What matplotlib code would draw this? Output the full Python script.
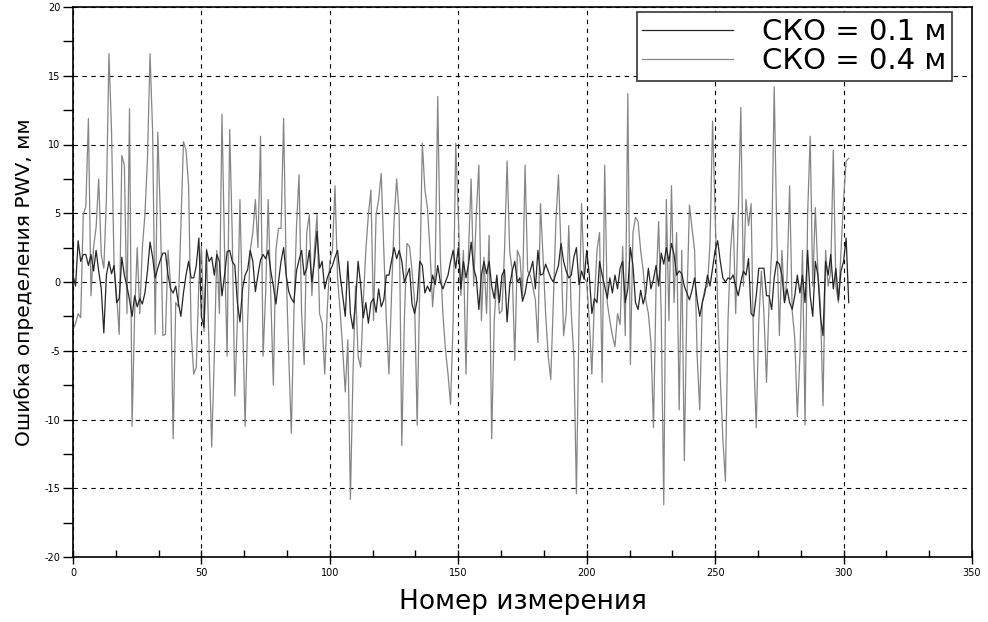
import matplotlib
matplotlib.use("Agg")
import matplotlib.pyplot as plt
from matplotlib.ticker import MultipleLocator

plt.rcParams["axes.unicode_minus"] = False

# measurement number
n_points = 303
meas = list(range(n_points))

# error of PWV, mm, for sigma = 0.1 m
err_01 = [
    0.5, -0.3, 3.0, 1.5, 2.0, 2.0, 1.2, 2.0, 0.8, 2.3,
    0.8, -0.5, -3.7, 0.5, 1.5, 0.6, 1.2, -1.5, -1.2, 1.8,
    0.5, -0.3, -1.3, -2.5, -1.0, -1.8, -1.2, -1.6, -0.8, 0.8,
    2.9, 1.8, 0.3, 1.0, 1.6, 2.1, 2.1, 0.5, -0.5, -0.8,
    -0.3, -1.5, -2.5, -0.8, 0.5, 1.5, 0.3, 0.3, 1.2, 3.2,
    -2.5, -3.3, 2.3, 1.5, 1.8, 0.5, 2.0, 1.5, -1.0, 0.5,
    2.2, 2.3, 1.5, 1.2, -1.5, -2.9, -0.5, 0.5, 0.9, 2.3,
    1.5, -0.7, 0.5, 1.6, 2.0, 1.7, 2.3, 0.8, -0.3, -1.6,
    0.0, 1.5, 2.5, 0.5, -0.7, -1.2, -1.5, 0.8, 1.6, 2.3,
    0.5, 1.0, 2.3, 0.0, 1.5, 3.7, 1.0, 1.5, -0.5, 0.3,
    0.8, 1.2, 1.8, 2.3, 0.5, -1.0, -2.5, 1.5, -2.3, -3.4,
    -1.5, 1.5, -0.2, -2.6, -1.5, -3.0, -1.5, -1.2, -2.2, -0.5,
    -1.8, -1.3, 0.5, 0.5, 1.5, 2.5, 1.7, 2.3, 1.5, 0.0,
    0.5, 1.0, -1.6, -2.3, -1.3, 1.5, 1.2, -0.8, -0.3, -0.7,
    0.5, -0.2, 1.2, 0.0, -0.5, 0.0, 0.5, 1.5, 2.3, 1.0,
    2.5, -0.5, 1.5, 0.3, 1.3, 2.9, 1.0, 0.3, -2.0, 0.5,
    1.5, 0.6, 1.5, -0.3, -1.2, 0.5, -1.5, 0.5, 0.9, -2.9,
    -0.3, 0.8, 1.5, 0.0, 0.3, -1.4, -0.8, 0.3, 0.8, 1.5,
    -0.5, 2.3, 0.5, 0.6, 1.3, 0.8, 0.3, 0.0, 0.6, 1.2,
    2.8, 1.5, 0.8, 0.3, 0.5, 1.8, 2.5, -0.2, 0.8, 0.2,
    2.3, 0.5, -2.3, -1.2, -1.5, 1.5, 0.5, -0.3, -1.2, 0.3,
    -0.8, 0.5, -0.5, 1.0, 1.5, -1.5, -0.5, 2.5, 1.2, -1.5,
    -2.0, -0.6, -1.6, -0.8, 1.0, -0.5, 0.2, 1.2, -0.3, 2.1,
    1.3, 2.5, 1.5, 2.8, 2.0, 0.5, 0.8, 0.6, -0.3, -0.8,
    -1.3, -0.6, 0.3, -1.3, -2.5, -1.5, -0.8, 0.5, -0.3, 1.0,
    2.3, 3.0, 1.5, 0.3, 0.0, 0.3, 0.2, 0.5, -0.3, -1.0,
    0.0, 0.8, 0.5, 1.7, -2.3, -2.5, -1.0, 1.0, 1.0, 1.0,
    -1.0, -1.0, -2.0, 0.3, 1.5, 1.3, 0.5, -1.5, -0.5, -1.5,
    -2.0, -1.0, 0.5, -0.8, 0.5, -1.5, 2.3, -1.0, -2.5, 1.5,
    0.5, -2.5, -3.9, 1.5, 0.5, 2.0, -0.5, 1.0, -1.3, 0.8,
    1.5, 3.2, -1.5,
]

# error of PWV, mm, for sigma = 0.4 m
err_04 = [
    -3.5, -3.0, -2.3, -2.6, 4.9, 5.5, 11.9, -1.0, 2.5, 4.0,
    7.5, 2.0, 1.0, 6.0, 16.6, 11.0, 1.0, -1.0, -3.8, 9.2,
    8.5, -2.3, 12.6, -10.5, -2.3, 2.5, -2.3, 2.5, 4.9, 9.0,
    16.6, 10.9, -3.8, 10.9, 4.9, -3.9, -3.8, 2.3, -0.2, -11.4,
    -1.5, -1.8, 4.0, 10.2, 9.6, 7.0, -3.6, -6.7, -6.2, 0.0,
    2.6, -3.6, 2.4, -5.2, -12.0, -5.5, 2.3, -2.3, 12.2, 2.3,
    -5.4, 11.1, 3.4, -8.3, -2.8, 6.0, -2.3, -10.5, -2.8, 2.3,
    3.6, 6.0, 2.5, 10.6, -5.4, -0.8, 6.0, -1.0, -7.5, 2.3,
    3.9, 3.9, 11.9, 0.8, -5.4, -11.0, -2.3, 4.0, 7.8, -2.3,
    -6.0, 3.6, 4.9, -1.0, 2.3, 4.9, -2.3, -3.0, -6.7, -2.0,
    1.5, 2.3, 7.0, 0.3, -2.1, -4.9, -8.0, -4.2, -15.8, -6.7,
    -0.3, -5.4, -6.2, -1.5, 2.3, 4.9, 6.7, -2.8, 4.9, 6.0,
    7.9, 2.3, -2.8, -6.7, -1.0, 4.4, 7.5, 4.9, -11.9, -2.8,
    2.8, 2.6, 0.8, -1.5, -10.4, -0.3, 10.1, 6.7, 5.4, 2.3,
    -1.8, 0.8, 13.5, 1.8, -2.3, -4.9, -6.7, -8.9, -2.8, 10.1,
    4.9, -1.0, 2.3, -6.7, 2.3, 7.5, -0.3, 4.9, 8.5, -2.8,
    1.8, -2.3, 3.4, -11.4, -2.8, 0.3, -2.3, -2.1, 2.3, 8.8,
    2.3, 0.8, -5.7, 2.3, 1.8, -1.0, 8.5, 0.8, 0.5, -0.3,
    -1.3, -4.4, 5.7, 1.8, -2.3, -5.4, -7.1, -1.5, 4.4, 7.8,
    2.3, -3.9, -2.3, 4.1, -2.3, -5.4, -15.4, -2.8, 5.7, 0.3,
    0.0, -2.8, -6.7, -1.3, 2.3, 3.6, -7.3, 8.5, -1.5, -2.8,
    -3.9, -4.7, -2.3, -3.1, 2.6, -3.9, 13.7, -6.0, 3.6, 4.7,
    4.4, 2.3, 0.8, -1.3, -2.3, -4.4, -10.6, -0.3, 4.4, -2.3,
    -16.2, 6.0, -2.8, 7.0, -1.5, 3.6, -9.3, 2.3, -13.0, -1.5,
    5.6, 3.9, 2.3, -5.4, -9.3, -1.5, -0.5, -0.3, 2.8, 11.7,
    4.9, -1.8, -7.0, -11.4, -14.5, -2.8, 2.3, 4.9, -2.3, 4.9,
    12.7, -0.3, 6.0, 4.1, 5.7, -5.4, -10.6, -2.8, 0.8, -2.3,
    -7.3, -1.5, 2.3, 14.2, 3.6, -3.9, 2.3, -1.5, 0.3, 7.0,
    -2.1, -4.1, -9.8, -5.4, 2.3, -10.4, 4.9, 10.6, -0.3, 5.4,
    0.8, -1.8, -9.0, 2.3, -0.3, 0.8, 9.6, -0.3, -1.5, 2.3,
    6.0, 8.8, 9.0,
]

labels = ["СКО = 0.1 м", "СКО = 0.4 м"]

fig = plt.figure(figsize=(9.88, 6.22), dpi=100)
ax = fig.add_axes([73 / 988, 1 - 557 / 622, 899 / 988, 550 / 622])

ax.plot(meas, err_01, color="#262626", lw=0.9, label=labels[0], zorder=3)
ax.plot(meas, err_04, color="#858585", lw=0.9, label=labels[1], zorder=2)

ax.set_xlim(0, 350)
ax.set_ylim(-20, 20)
ax.xaxis.set_major_locator(MultipleLocator(50))
ax.xaxis.set_minor_locator(MultipleLocator(50 / 3))
ax.yaxis.set_major_locator(MultipleLocator(5))
ax.yaxis.set_minor_locator(MultipleLocator(2.5))

ax.grid(True, which="major", color="black", lw=0.8, linestyle=(0, (4, 4)))
ax.set_axisbelow(True)

ax.tick_params(axis="x", which="major", direction="inout", length=10, width=1,
               labelsize=7, pad=3)
ax.tick_params(axis="x", which="minor", direction="in", length=5, width=1)
ax.tick_params(axis="y", which="both", direction="out", length=7, width=1,
               labelsize=7, pad=2)
for spine in ax.spines.values():
    spine.set_linewidth(1.2)

ax.set_xlabel("Номер измерения", fontsize=19, labelpad=8)
ax.set_ylabel("Ошибка определения PWV, мм", fontsize=14.5, labelpad=8)

leg = ax.legend(loc="upper right", bbox_to_anchor=(0.978, 0.991),
                borderaxespad=0, fontsize=21, fancybox=False,
                edgecolor="#333333", framealpha=1, handlelength=3.1,
                handletextpad=1.0, labelspacing=0.05, borderpad=0.2)
leg.get_frame().set_linewidth(1.2)

fig.savefig("out.png", dpi=100)
